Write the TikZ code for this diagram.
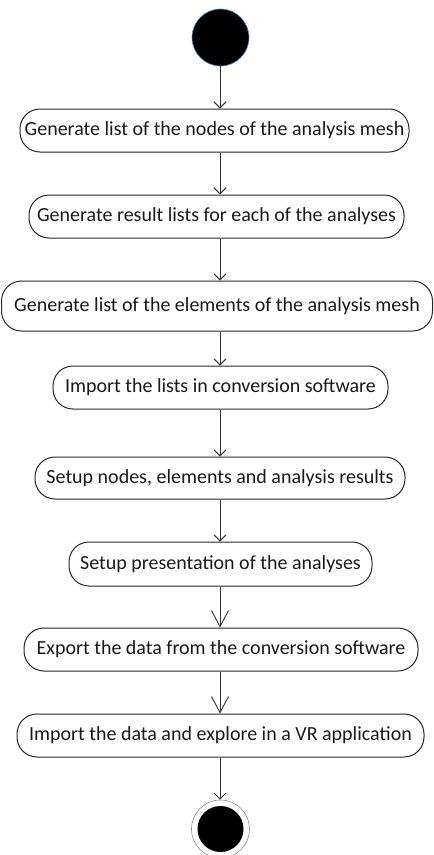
\documentclass[tikz,border=0pt]{standalone}
\usepackage{fontspec}
\setmainfont{Carlito}
\usetikzlibrary{arrows.meta}
\begin{document}
\begin{tikzpicture}[x=1pt,y=-1pt,
  act/.style={draw=black!85, line width=1pt, rounded corners=20pt, inner sep=0pt, font=\fontsize{20}{23}\selectfont, text=black!90},
  flow/.style={draw=black!80, line width=0.9pt, -{Straight Barb[length=6pt,width=12pt,line width=0.9pt]}},
  bigflow/.style={draw=black!80, line width=0.9pt, -{Straight Barb[length=16pt,width=17pt,line width=0.9pt]}}]
\useasboundingbox (0,0) rectangle (434,855);
\coordinate (ax) at (220,0);
\node[circle, fill=black, draw={rgb,255:red,80;green,140;blue,200}, line width=0.6pt, minimum size=57pt, inner sep=0pt] (start) at (220.5,37.5) {};
\node[act, minimum width=389pt, minimum height=43pt] (n1) at (214.5,130.5) {Generate list of the nodes of the analysis mesh};
\node[act, minimum width=375pt, minimum height=43pt] (n2) at (216.5,216.5) {Generate result lists for each of the analyses};
\node[act, minimum width=431pt, minimum height=50pt] (n3) at (217,306) {Generate list of the elements of the analysis mesh};
\node[act, minimum width=335pt, minimum height=43pt] (n4) at (220.5,387.5) {Import the lists in conversion software};
\node[act, minimum width=370pt, minimum height=42pt] (n5) at (220,478) {Setup nodes, elements and analysis results};
\node[act, minimum width=303pt, minimum height=44pt] (n6) at (220.5,564) {Setup presentation of the analyses};
\node[act, minimum width=394pt, minimum height=43pt] (n7) at (221,649.5) {Export the data from the conversion software};
\node[act, minimum width=407pt, minimum height=43pt] (n8) at (220.5,735.5) {Import the data and explore in a VR application};
\node[circle, draw=black!45, line width=0.6pt, minimum size=58pt, inner sep=0pt] (endo) at (220.5,829) {};
\node[circle, fill=black, minimum size=46pt, inner sep=0pt] (end) at (220.5,829) {};
\draw[flow] (start.south -| ax) -- (n1.north -| ax);
\draw[flow] (n1.south -| ax) -- (n2.north -| ax);
\draw[flow] (n2.south -| ax) -- (n3.north -| ax);
\draw[flow] (n3.south -| ax) -- (n4.north -| ax);
\draw[flow] (n4.south -| ax) -- (n5.north -| ax);
\draw[flow] (n5.south -| ax) -- (n6.north -| ax);
\draw[bigflow] (n6.south -| ax) -- (n7.north -| ax);
\draw[bigflow] (n7.south -| ax) -- (n8.north -| ax);
\draw[flow] (n8.south -| ax) -- (endo.north -| ax);
\end{tikzpicture}
\end{document}
